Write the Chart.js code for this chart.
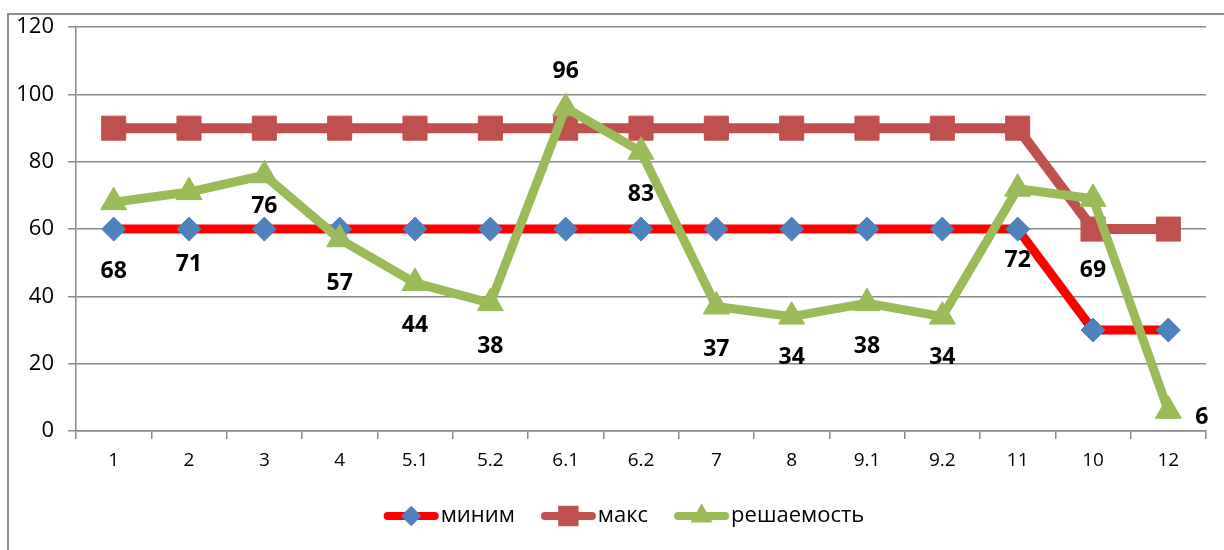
<!DOCTYPE html>
<html lang="ru">
<head>
    <meta charset="UTF-8">
    <title>решаемость</title>
    <script src="https://cdn.jsdelivr.net/npm/chart.js"></script>
    <style>
        body { margin: 0; background: #fff; overflow: hidden; }
        #wrap { position: relative; width: 1224px; height: 550px; }
        #frame { position: absolute; left: 7px; top: 13px; width: 1300px; height: 600px; border: 2px solid #8c8c8c; }
        #chart { position: absolute; left: 0; top: 0; }
    </style>
</head>
<body>
<div id="wrap">
    <div id="frame"></div>
    <canvas id="chart" width="1224" height="550"></canvas>
</div>
<script>
    // categories (task numbers) and series
    var tasks = ['1', '2', '3', '4', '5.1', '5.2', '6.1', '6.2', '7', '8', '9.1', '9.2', '11', '10', '12'];
    var minim = [60, 60, 60, 60, 60, 60, 60, 60, 60, 60, 60, 60, 60, 30, 30];
    var maks = [90, 90, 90, 90, 90, 90, 90, 90, 90, 90, 90, 90, 90, 60, 60];
    var solved = [68, 71, 76, 57, 44, 38, 96, 83, 37, 34, 38, 34, 72, 69, 6];
    var yTicks = [0, 20, 40, 60, 80, 100, 120];

    // where each data label sits relative to its point (px)
    var labelDx = [0, 0, 0, 0, 0, 0, 0, 0, 0, 0, 0, 0, 0, 0, 27];
    var labelDy = [69, 72, 31, 44, 43, 43, -37, 43, 43, 41, 43, 41, 72, 72, 7];

    var FONT = '"Open Sans", "Noto Sans", sans-serif';
    var GRID = '#8a8a8a';

    function marker(ctx, style, x, y, r, color) {
        ctx.save();
        ctx.fillStyle = color;
        ctx.beginPath();
        if (style === 'rectRot') {
            ctx.moveTo(x, y - r); ctx.lineTo(x + r, y); ctx.lineTo(x, y + r); ctx.lineTo(x - r, y);
        } else if (style === 'rect') {
            var s = r * Math.SQRT1_2;
            ctx.rect(x - s, y - s, 2 * s, 2 * s);
        } else {
            var h = r * Math.sqrt(3) / 2;
            ctx.moveTo(x, y - r); ctx.lineTo(x + h, y + r / 2); ctx.lineTo(x - h, y + r / 2);
        }
        ctx.closePath();
        ctx.fill();
        ctx.restore();
    }

    var labelPlugin = {
        id: 'solvedLabels',
        afterDatasetsDraw: function(chart) {
            var ctx = chart.ctx;
            var meta = chart.getDatasetMeta(2);
            ctx.save();
            ctx.font = 'bold 23px ' + FONT;
            ctx.fillStyle = '#000';
            ctx.textBaseline = 'middle';
            meta.data.forEach(function(pt, i) {
                var dx = labelDx[i];
                ctx.textAlign = dx > 0 ? 'left' : 'center';
                ctx.fillText(solved[i], pt.x + dx, pt.y + labelDy[i]);
            });
            ctx.restore();
        }
    };

    var legendPlugin = {
        id: 'lineLegend',
        afterDraw: function(chart) {
            var ctx = chart.ctx;
            var ds = chart.data.datasets;
            ctx.save();
            ctx.font = '22px ' + FONT;
            ctx.textBaseline = 'middle';
            var sym = 55, gap = 2, between = 26, total = 0;
            ds.forEach(function(d, i) {
                total += sym + gap + ctx.measureText(d.label).width + (i < ds.length - 1 ? between : 0);
            });
            var x = chart.width / 2 + 12 - total / 2;
            var y = 516;
            ds.forEach(function(d) {
                ctx.strokeStyle = d.borderColor;
                ctx.lineWidth = 8;
                ctx.lineCap = 'round';
                ctx.beginPath();
                ctx.moveTo(x + 4, y);
                ctx.lineTo(x + sym - 4, y);
                ctx.stroke();
                marker(ctx, d.pointStyle, x + sym / 2, y, d.pointRadius * 0.85, d.pointBackgroundColor);
                ctx.fillStyle = '#000';
                ctx.fillText(d.label, x + sym + gap, y);
                x += sym + gap + ctx.measureText(d.label).width + between;
            });
            ctx.restore();
        }
    };

    var ctxC = document.getElementById('chart').getContext('2d');
    new Chart(ctxC, {
        type: 'line',
        data: {
            labels: tasks,
            datasets: [{
                label: 'миним',
                data: minim,
                borderColor: '#ff0000',
                borderWidth: 9,
                pointStyle: 'rectRot',
                pointRadius: 12,
                pointBackgroundColor: '#4f81bd',
                pointBorderColor: '#4f81bd',
                pointBorderWidth: 1,
                order: 3
            }, {
                label: 'макс',
                data: maks,
                borderColor: '#c0504d',
                borderWidth: 10,
                pointStyle: 'rect',
                pointRadius: 17,
                pointBackgroundColor: '#c0504d',
                pointBorderColor: '#c0504d',
                pointBorderWidth: 1,
                order: 2
            }, {
                label: 'решаемость',
                data: solved,
                borderColor: '#9bbb59',
                borderWidth: 9,
                pointStyle: 'triangle',
                pointRadius: 15,
                pointBackgroundColor: '#9bbb59',
                pointBorderColor: '#9bbb59',
                pointBorderWidth: 1,
                order: 1
            }]
        },
        options: {
            responsive: false,
            animation: false,
            layout: { padding: { left: 0, right: 16, top: 23, bottom: 0 } },
            elements: {
                line: { tension: 0, borderJoinStyle: 'round', borderCapStyle: 'round' }
            },
            plugins: {
                legend: { display: false },
                tooltip: { enabled: false }
            },
            scales: {
                x: {
                    offset: true,
                    grid: { offset: true, drawOnChartArea: false, drawTicks: true, tickLength: 8, color: GRID, lineWidth: 1.5 },
                    border: { color: GRID, width: 1.5 },
                    ticks: { color: '#000', font: { family: FONT, size: 19 }, padding: 10, maxRotation: 0 },
                    afterFit: function(s) { s.height = 119; }
                },
                y: {
                    min: 0,
                    max: 120,
                    afterBuildTicks: function(s) { s.ticks = yTicks.map(function(v) { return { value: v }; }); },
                    grid: { color: GRID, lineWidth: 1.5, tickLength: 8 },
                    border: { color: GRID, width: 1.5 },
                    ticks: { color: '#000', font: { family: FONT, size: 22 }, padding: 14 },
                    afterFit: function(s) { s.width = 76; }
                }
            }
        },
        plugins: [labelPlugin, legendPlugin]
    });
</script>
</body>
</html>
